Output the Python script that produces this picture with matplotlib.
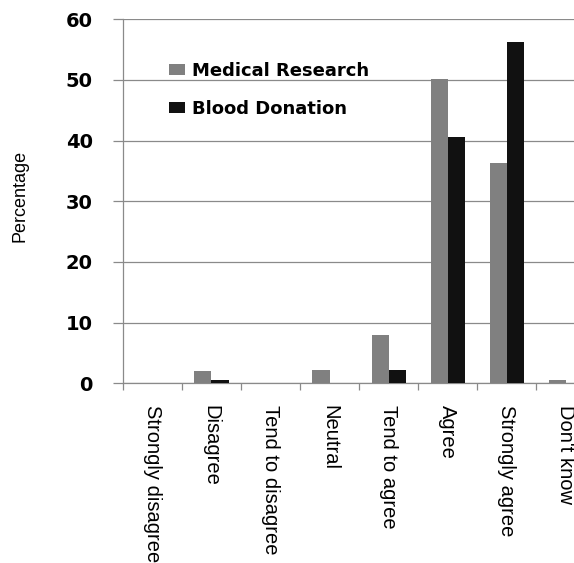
import numpy as np
import matplotlib
matplotlib.use("Agg")
import matplotlib.pyplot as plt

# survey responses (% of respondents)
categories = ["Strongly disagree", "Disagree", "Tend to disagree", "Neutral",
              "Tend to agree", "Agree", "Strongly agree", "Don't know"]
medical_research = [0.0, 2.0, 0.0, 2.2, 8.0, 50.2, 36.3, 0.5]
blood_donation = [0.0, 0.5, 0.0, 0.0, 2.2, 40.6, 56.2, 0.0]
yticks = [0, 10, 20, 30, 40, 50, 60]

narrow = ["Liberation Sans", "DejaVu Sans"]

fig = plt.figure(figsize=(5.74, 5.63), dpi=100)
ax = fig.add_axes([0.2138, 0.3192, 0.8237, 0.6465])

x = np.arange(len(categories))
w = 0.29
ax.bar(x - w / 2, medical_research, w, color="#808080", label="Medical Research", zorder=3)
ax.bar(x + w / 2, blood_donation, w, color="#111111", label="Blood Donation", zorder=3)

ax.set_xlim(-0.5, len(categories) - 0.5)
ax.set_ylim(0, 60)
ax.set_yticks(yticks)
ax.set_yticklabels([str(t) for t in yticks], fontsize=14, fontweight="bold",
                   family="DejaVu Sans")
ax.yaxis.grid(True, color="#8a8a8a", linewidth=0.9, zorder=0)

ax.set_xticks(x)
ax.set_xticklabels(categories, rotation=270, ha="center", va="top",
                   fontsize=14.5, family=narrow)
ax.set_xticks(np.arange(-0.5, len(categories)), minor=True)
ax.tick_params(axis="x", which="major", length=0, pad=15.5)
ax.tick_params(axis="x", which="minor", length=5, width=0.9, color="#8a8a8a")
ax.tick_params(axis="y", length=7.5, width=0.9, color="#8a8a8a", pad=14)

for side in ["top", "right"]:
    ax.spines[side].set_visible(False)
for side in ["left", "bottom"]:
    ax.spines[side].set_color("#8a8a8a")
    ax.spines[side].set_linewidth(0.9)

fig.text(20 / 574, 1 - 196 / 563, "Percentage", rotation=90, ha="center",
         va="center", fontsize=13, family=narrow)

ax.legend(loc="upper left", bbox_to_anchor=(169 / 574, 1 - 62 / 563),
          bbox_transform=fig.transFigure, frameon=False, borderpad=0,
          borderaxespad=0, handlelength=0.9, handleheight=0.52,
          handletextpad=0.35, labelspacing=1.1,
          prop={"family": "DejaVu Sans", "weight": "bold", "size": 13})

fig.savefig("out.png", dpi=100)
